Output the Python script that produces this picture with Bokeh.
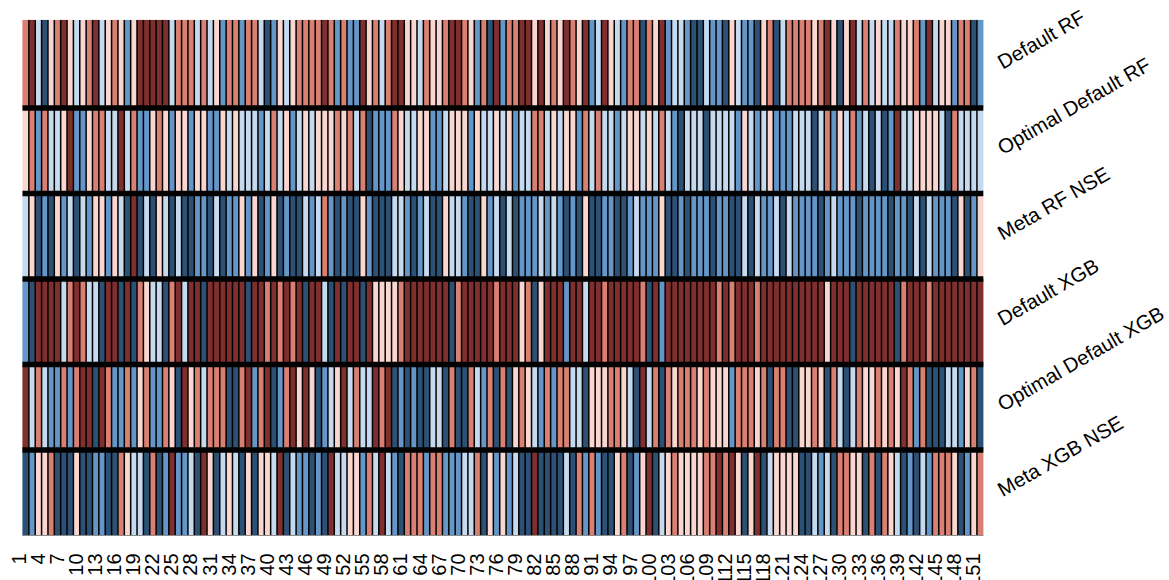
from math import pi
from bokeh.core.properties import value
from bokeh.embed import file_html
from bokeh.models import ColumnDataSource, Range1d
from bokeh.plotting import figure
from bokeh.resources import INLINE

# class 0..5 -> colour, from strongest red to strongest blue
palette = ["#802F2F", "#D98072", "#FAD6D0", "#C5D9EF", "#6596C8", "#2D5075"]
row_names = ["Default RF", "Optimal Default RF", "Meta RF NSE", "Default XGB", "Optimal Default XGB", "Meta XGB NSE"]
tick_labels = list(range(1, 152, 3))

default_rf = [1,0,3,5,2,1,0,2,3,2,1,0,3,2,1,2,4,2,0,0,0,0,0,3,1,1,1,3,1,3,2,4,1,1,4,1,1,3,
 5,4,2,3,2,1,1,1,1,0,1,4,1,4,4,0,2,1,3,1,0,0,2,2,3,1,2,2,1,0,0,1,2,4,1,5,0,
 4,1,1,0,0,2,0,2,1,2,0,1,2,0,4,3,0,2,3,4,1,1,5,1,2,0,4,3,3,4,5,5,3,4,4,5,2,3,
 4,4,5,2,1,5,3,1,1,1,1,2,1,0,2,5,2,0,3,1,3,2,3,3,1,2,2,1,4,0,3,2,2,4,1,1,5,4]
optimal_default_rf = [2,1,4,1,3,3,2,0,4,4,2,1,1,3,3,0,3,1,4,4,2,1,2,4,2,2,4,2,2,4,4,2,3,2,3,3,3,4,
 3,1,3,2,4,3,2,3,2,2,2,1,2,1,3,1,5,4,4,4,1,2,3,3,2,2,4,4,3,2,2,2,4,2,3,3,2,
 3,2,4,3,3,1,1,3,2,3,2,2,4,1,3,1,3,3,4,3,2,2,3,2,3,1,3,4,5,3,3,3,5,3,3,3,3,4,
 2,3,4,3,2,4,4,4,3,3,3,5,3,1,4,2,3,1,4,3,5,3,5,4,0,3,3,2,2,2,2,3,5,1,3,3,3,3]
meta_rf_nse = [3,2,5,4,5,2,4,3,5,3,4,2,2,4,2,3,5,0,5,3,5,2,3,5,3,5,5,4,4,5,3,5,4,4,2,4,2,5,
 4,2,5,4,5,5,3,4,3,1,4,5,4,5,5,2,4,5,5,5,3,3,4,5,4,3,5,5,2,3,3,4,5,5,2,4,3,
 5,3,5,4,4,4,3,4,3,4,5,4,5,2,5,5,4,4,5,5,4,3,4,4,4,2,5,5,4,5,4,4,4,5,4,4,5,5,
 3,5,3,4,4,3,5,3,4,4,4,4,5,4,3,4,4,4,5,4,4,4,4,5,4,4,5,3,5,3,4,4,4,5,2,5,4,2]
default_xgb = [4,5,0,0,0,0,3,1,0,1,3,3,5,0,0,5,0,5,1,2,3,3,5,1,0,3,0,0,5,0,0,0,0,0,0,5,0,0,
 1,0,1,0,1,0,5,0,0,3,5,0,5,0,0,5,0,2,2,2,2,1,0,0,0,0,0,0,0,5,1,0,0,0,0,0,1,
 0,0,0,2,1,5,2,0,0,0,4,0,0,3,0,0,1,0,0,0,0,0,1,5,0,4,0,0,0,0,0,0,0,0,1,0,1,0,
 0,0,1,0,0,0,0,0,0,0,0,0,0,2,0,0,0,5,0,0,0,0,0,0,5,1,0,0,0,1,0,0,0,0,0,0,0,0]
optimal_default_xgb = [0,3,1,3,4,4,1,4,1,0,0,5,0,1,4,4,1,4,2,1,4,4,1,2,5,0,2,1,3,1,1,1,5,5,1,0,4,1,
 0,5,4,1,0,2,0,2,5,4,3,2,0,3,1,3,3,0,1,0,5,4,5,4,5,5,3,3,5,1,5,5,1,3,4,1,5,
 1,5,2,1,2,3,4,1,4,1,1,3,3,5,2,2,2,1,1,2,3,5,0,3,1,5,1,2,1,1,1,2,1,2,2,2,4,1,
 1,1,2,1,5,1,1,5,5,2,2,1,2,5,1,3,5,3,1,2,2,1,2,1,2,0,1,4,1,5,5,5,3,3,4,2,1,5]
meta_xgb_nse = [5,4,2,2,1,5,5,5,2,5,5,4,4,5,5,1,2,3,3,5,1,5,4,0,4,4,3,5,0,2,5,3,2,3,5,2,5,2,
 2,3,0,5,3,4,4,5,4,5,0,3,3,2,2,4,1,3,0,3,4,5,1,1,1,4,1,1,4,4,4,3,3,1,5,2,4,
 2,4,3,5,5,0,5,5,5,5,3,5,1,4,1,4,5,5,2,1,5,4,2,0,5,3,2,1,2,2,2,2,1,1,0,1,0,2,
 5,2,0,5,3,2,2,2,2,5,5,3,4,3,5,1,1,2,2,5,1,5,1,2,3,5,4,5,3,4,1,1,1,2,5,4,2,1]
rows = [default_rf, optimal_default_rf, meta_rf_nse, default_xgb, optimal_default_xgb, meta_xgb_nse]

n_cols = len(default_rf)
n_rows = len(rows)
W, H = 1169, 580
left, right = 22.0, 982.8
row_pitch = 85.5
y0_px = 535.0          # picture row of the heatmap's bottom edge
ux = (right - left) / n_cols
x0 = 0.5 - left / ux
y_top = H and (y0_px / row_pitch)
top_overhang = 2.5 / row_pitch   # first row is slightly taller than the others

p = figure(width=W, height=H, output_backend="svg", toolbar_location=None,
           x_range=Range1d(x0, x0 + W / ux),
           y_range=Range1d(-(H - y0_px) / row_pitch, y0_px / row_pitch),
           min_border=0, min_border_left=0, min_border_right=0, min_border_top=0, min_border_bottom=0)
p.axis.visible = False
p.grid.visible = False
p.outline_line_color = None
p.background_fill_color = "white"

lefts, rights, bottoms, tops, colors = [], [], [], [], []
for r, row in enumerate(rows):
    for c, v in enumerate(row):
        lefts.append(c + 0.5)
        rights.append(c + 1.5)
        bottoms.append(n_rows - r - 1)
        tops.append(n_rows - r + (top_overhang if r == 0 else 0))
        colors.append(palette[v])
p.quad(left="l", right="r", bottom="b", top="t", fill_color="color", line_color="color", line_width=0.2,
       source=ColumnDataSource(dict(l=lefts, r=rights, b=bottoms, t=tops, color=colors)))

edges = [c + 0.5 for c in range(1, n_cols)]
p.segment(x0=edges, x1=edges, y0=[0] * len(edges), y1=[n_rows + top_overhang] * len(edges),
          line_color="black", line_width=1.5, line_cap="butt")
seps = list(range(1, n_rows))
p.segment(x0=[0.5] * len(seps), x1=[n_cols + 0.5] * len(seps), y0=seps, y1=seps,
          line_color="black", line_width=5.4, line_cap="butt")
p.segment(x0=[0.5], x1=[n_cols + 0.5], y0=[0], y1=[0], line_color="#8a8a8a", line_width=1, line_cap="butt")

p.text(x=[n_cols + 0.5] * n_rows, y=[n_rows - r - 0.5 for r in range(n_rows)], text=row_names,
       angle=pi / 6, x_offset=16, y_offset=-1.5, text_align="left", text_baseline="middle",
       text_font=value("Liberation Sans"), text_font_size="20.3px", text_color="black")
p.text(x=tick_labels, y=[-0.21] * len(tick_labels), text=[str(t) for t in tick_labels],
       angle=pi / 2, x_offset=-7, text_align="right", text_baseline="middle",
       text_font=value("Liberation Sans"), text_font_size="20px", text_color="black")

open("out.html", "w").write(file_html(p, INLINE))
